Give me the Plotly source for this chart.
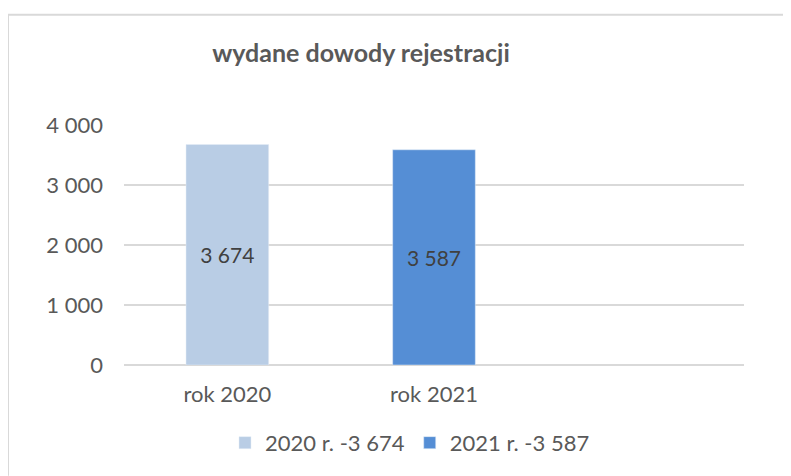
import plotly.graph_objects as go

categories = ["rok 2020", "rok 2021"]
series_names = ["2020 r. -3 674", "2021 r. -3 587"]
values = [3674, 3587]
colors = ["#B9CDE5", "#558ED5"]
y_ticks = [0, 1000, 2000, 3000, 4000]

FONT = "Lato"
OFF = 8  # page body margin
W, H = 791 - OFF, 476 - OFF
ml, mr, mt, mb = 124 - OFF, 47, 124.5 - OFF, 111
pw = W - ml - mr
ph = H - mt - mb

fig = go.Figure()
for cat, name, val, col in zip(categories, series_names, values, colors):
    fig.add_trace(go.Bar(
        x=[cat], y=[val], name=name, marker_color=col, width=0.4,
        texttemplate="%{y:,d}", textposition="inside", insidetextanchor="middle",
        textfont=dict(family=FONT, size=21, color="#404040"),
        constraintext="none",
    ))

def px_x(p):
    return (p - OFF - ml) / pw

def px_y(p):
    return (H - mb - (p - OFF)) / ph

border = dict(color="#D9D9D9", width=2)
fig.update_layout(
    width=W, height=H,
    margin=dict(l=ml, r=mr, t=mt, b=mb),
    paper_bgcolor="white", plot_bgcolor="white",
    barmode="overlay",
    separators=", ",
    font=dict(family=FONT, size=22, color="#595959"),
    title=dict(text="<b>wydane dowody rejestracji</b>", x=(361 - OFF) / W, xanchor="center",
               xref="container", y=1 - (53 - OFF) / H, yanchor="middle", yref="container",
               font=dict(family=FONT, size=25, color="#595959")),
    xaxis=dict(type="category", categoryarray=categories, range=[-0.5, 2.5],
               showgrid=False, showline=False, ticks="", ticklabelstandoff=14,
               tickfont=dict(family=FONT, size=22, color="#595959")),
    yaxis=dict(range=[0, 4000], tickvals=y_ticks, tickformat=",d",
               showgrid=True, gridcolor="#D9D9D9", gridwidth=1.5,
               zeroline=True, zerolinecolor="#D9D9D9", zerolinewidth=1.5,
               showline=False, ticks="", ticklabelstandoff=20,
               tickfont=dict(family=FONT, size=22, color="#595959")),
    legend=dict(orientation="h", x=px_x(225), xanchor="left", y=px_y(443), yanchor="middle",
                font=dict(family=FONT, size=22, color="#595959"),
                itemwidth=30, tracegroupgap=0, bgcolor="rgba(0,0,0,0)"),
    shapes=[
        dict(type="line", xref="paper", yref="paper",
             x0=px_x(8), x1=px_x(791), y0=px_y(14), y1=px_y(14), line=border, layer="below"),
        dict(type="line", xref="paper", yref="paper",
             x0=px_x(8), x1=px_x(8), y0=px_y(14), y1=px_y(476), line=border, layer="below"),
    ],
)

fig.write_html("out.html")
